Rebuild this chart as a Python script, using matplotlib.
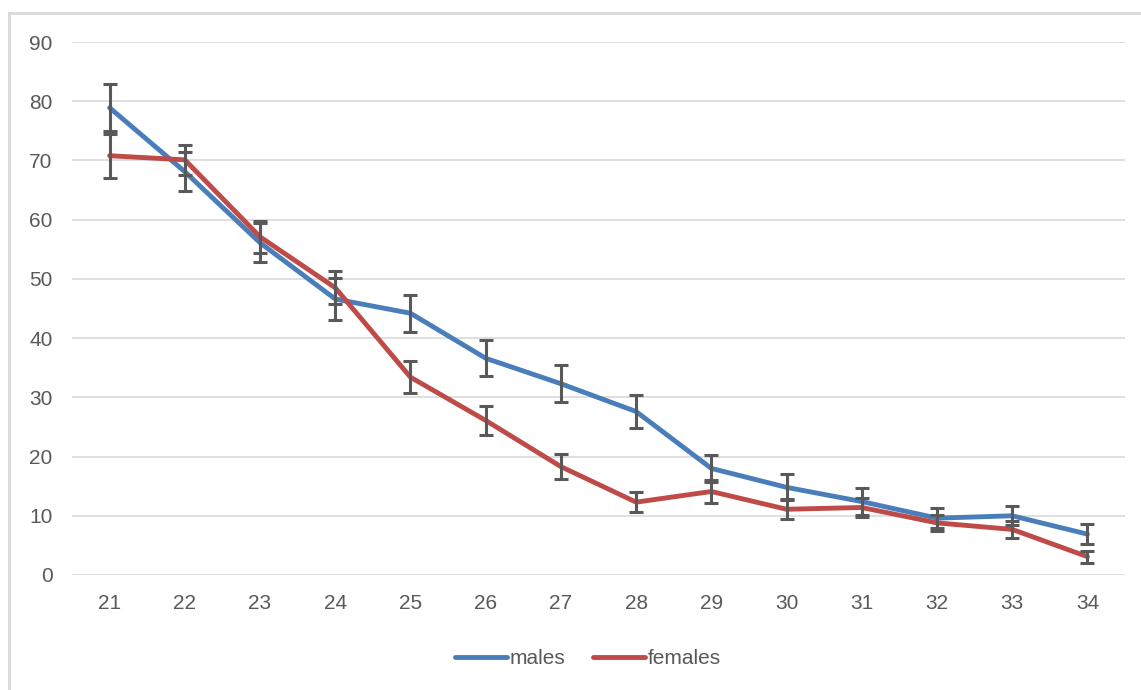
import matplotlib.pyplot as plt
from matplotlib.lines import Line2D

ages = ['21', '22', '23', '24', '25', '26', '27', '28', '29', '30', '31', '32', '33', '34']
males = [78.9, 68.1, 56.1, 46.6, 44.2, 36.6, 32.3, 27.6, 18.0, 14.8, 12.4, 9.6, 10.0, 6.9]
males_err = [4.0, 3.3, 3.3, 3.5, 3.1, 3.0, 3.1, 2.8, 2.3, 2.2, 2.3, 1.7, 1.6, 1.7]
females = [70.8, 70.1, 57.1, 48.5, 33.4, 26.1, 18.3, 12.3, 14.1, 11.1, 11.4, 8.8, 7.7, 3.1]
females_err = [3.7, 2.5, 2.7, 2.8, 2.7, 2.4, 2.1, 1.7, 1.9, 1.7, 1.6, 1.4, 1.5, 1.0]

plt.rcParams['font.family'] = ['Liberation Sans', 'DejaVu Sans']

fig = plt.figure(figsize=(11.41, 6.9), dpi=100)
ax = fig.add_axes([72 / 1141, 1 - 575 / 690, (1125 - 72) / 1141, (575 - 42) / 690])

x = list(range(len(ages)))
err_style = dict(ecolor='#595959', elinewidth=2.2, capsize=5, capthick=2.2, fmt='none', zorder=3)
ax.plot(x, males, color='#4a7ebb', lw=3.5, solid_capstyle='round', label='males', zorder=2)
ax.plot(x, females, color='#be4b48', lw=3.5, solid_capstyle='round', label='females', zorder=2)
ax.errorbar(x, males, yerr=males_err, **err_style)
ax.errorbar(x, females, yerr=females_err, **err_style)

ax.set_xlim(-0.5, len(ages) - 0.5)
ax.set_ylim(0, 90)
ax.set_yticks(range(0, 91, 10))
ax.set_xticks(x)
ax.set_xticklabels(ages)
ax.grid(axis='y', color='#d9d9d9', lw=1.2)
ax.set_axisbelow(True)
for s in ax.spines.values():
    s.set_visible(False)
ax.tick_params(length=0, colors='#595959', labelsize=15)
ax.tick_params(axis='y', pad=14)
ax.tick_params(axis='x', pad=14)

ax.legend(loc='center', bbox_to_anchor=(0.49, -0.157), ncol=2, frameon=False,
          fontsize=15, labelcolor='#595959', handlelength=2.5, handletextpad=0.15,
          columnspacing=1.3)

# light frame around chart area
fig.add_artist(Line2D([9 / 1141, 1], [1 - 13 / 690, 1 - 13 / 690], color='#d9d9d9', lw=2))
fig.add_artist(Line2D([9 / 1141, 9 / 1141], [0, 1 - 13 / 690], color='#d9d9d9', lw=2))

fig.savefig('out.png', dpi=100)
